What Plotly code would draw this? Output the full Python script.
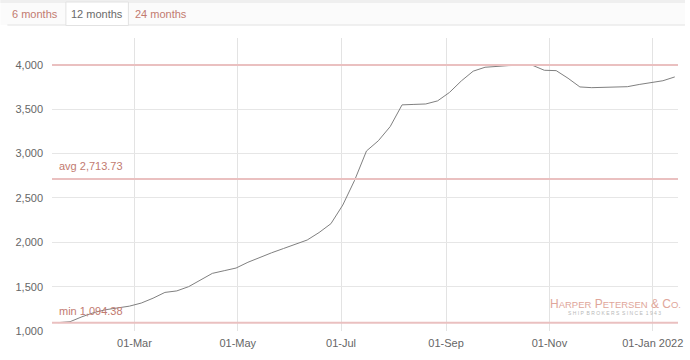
import plotly.graph_objects as go
import pandas as pd

# ---- data ----
start_date = "2021-01-15"
weeks = 53
values = [1094.38, 1105, 1160, 1207, 1240, 1262, 1280, 1315, 1370, 1435,
          1452, 1500, 1575, 1650, 1680, 1710, 1775, 1830, 1882, 1930,
          1975, 2026, 2110, 2210, 2420, 2700, 3030, 3145, 3305, 3550,
          3555, 3560, 3595, 3690, 3820, 3930, 3974, 3985, 3993, 3996,
          3996, 3940, 3936, 3850, 3752, 3744, 3748, 3752, 3755, 3780,
          3805, 3822, 3865]
dates = pd.date_range(start_date, periods=weeks, freq="7D")
avg_value = 2713.73
min_value = 1094.38
max_value = 4000
x_tick_vals = ["2021-03-01", "2021-05-01", "2021-07-01", "2021-09-01", "2021-11-01", "2022-01-01"]
x_tick_text = ["01-Mar", "01-May", "01-Jul", "01-Sep", "01-Nov", "01-Jan 2022"]
y_tick_vals = [1000, 1500, 2000, 2500, 3000, 3500, 4000]
y_tick_text = ["1,000", "1,500", "2,000", "2,500", "3,000", "3,500", "4,000"]
tabs = ["6 months", "12 months", "24 months"]

W, H = 690, 360
ML, MR, MT, MB = 52, 7, 38, 29
PW, PH = W - ML - MR, H - MT - MB

def px(x):
    return (x - ML) / PW

def py(y):
    return 1 - (y - MT) / PH

FONT = "Liberation Sans, Arial, sans-serif"
REF = "#eac0c0"
LBL = "#c27a70"

fig = go.Figure()
fig.add_trace(go.Scatter(x=dates, y=values, mode="lines",
                         line=dict(color="#808080", width=1), hoverinfo="skip",
                         showlegend=False))

shapes = []
for v in [max_value, avg_value, min_value]:
    shapes.append(dict(type="line", xref="paper", yref="y", x0=0, x1=1, y0=v, y1=v,
                       line=dict(color=REF, width=2), layer="above"))

# tab bar
shapes.append(dict(type="rect", xref="paper", yref="paper", x0=px(0), x1=px(W), y0=py(25), y1=py(0),
                   fillcolor="#fbfbfb", line=dict(width=0), layer="below"))
shapes.append(dict(type="rect", xref="paper", yref="paper", x0=px(0), x1=px(W), y0=py(3), y1=py(0),
                   fillcolor="#efefef", line=dict(width=0), layer="below"))
shapes.append(dict(type="line", xref="paper", yref="paper", x0=px(7), x1=px(W), y0=py(25), y1=py(25),
                   line=dict(color="#e2e2e2", width=1)))
shapes.append(dict(type="rect", xref="paper", yref="paper", x0=px(66), x1=px(129), y0=py(25.5), y1=py(2),
                   fillcolor="white", line=dict(color="#e2e2e2", width=1)))

annotations = []
tab_x = [35, 97, 162]
tab_col = [LBL, "#6a6a6a", LBL]
for t, x, c in zip(tabs, tab_x, tab_col):
    annotations.append(dict(text=t, xref="paper", yref="paper", x=px(x), y=py(14),
                            showarrow=False, xanchor="center", yanchor="middle",
                            font=dict(family=FONT, size=11, color=c)))

annotations.append(dict(text="avg " + f"{avg_value:,.2f}", xref="paper", yref="y", x=px(57), y=avg_value,
                        yshift=13, showarrow=False, xanchor="left", yanchor="middle",
                        font=dict(family=FONT, size=11, color=LBL)))
annotations.append(dict(text="min " + f"{min_value:,.2f}", xref="paper", yref="y", x=px(57), y=min_value,
                        yshift=12, showarrow=False, xanchor="left", yanchor="middle",
                        font=dict(family=FONT, size=11, color=LBL)))

annotations.append(dict(
    text="H<span style='font-size:9.5px'>ARPER</span> P<span style='font-size:9.5px'>ETERSEN</span> &amp; C<span style='font-size:9.5px'>O.</span>",
    xref="paper", yref="paper", x=px(620), y=py(304), showarrow=False,
    xanchor="center", yanchor="middle", font=dict(family=FONT, size=12, color="#e0a69a")))
annotations.append(dict(text="S H I P  B R O K E R S  S I N C E  1 9 4 3", xref="paper", yref="paper",
                        x=px(619), y=py(313),
                        showarrow=False, xanchor="center", yanchor="middle",
                        font=dict(family=FONT, size=5, color="#b8b8b8")))

fig.update_layout(
    width=W, height=H,
    margin=dict(l=ML, r=MR, t=MT, b=MB, pad=0),
    paper_bgcolor="white", plot_bgcolor="white",
    shapes=shapes, annotations=annotations,
    font=dict(family=FONT, size=11, color="#666666"),
    xaxis=dict(range=["2021-01-11 08:00", "2022-01-15 22:00"], tickvals=x_tick_vals, ticktext=x_tick_text,
               showgrid=True, gridcolor="#e3e3e3", gridwidth=1, zeroline=False,
               showline=False, ticks="", tickfont=dict(size=11, color="#666666"), ticklabelstandoff=4),
    yaxis=dict(range=[1000, 4304], tickvals=y_tick_vals, ticktext=y_tick_text,
               showgrid=True, gridcolor="#e6e6e6", gridwidth=1, zeroline=False,
               showline=False, ticks="", tickfont=dict(size=11, color="#666666"), ticklabelstandoff=8),
)

fig.write_html("out.html")
